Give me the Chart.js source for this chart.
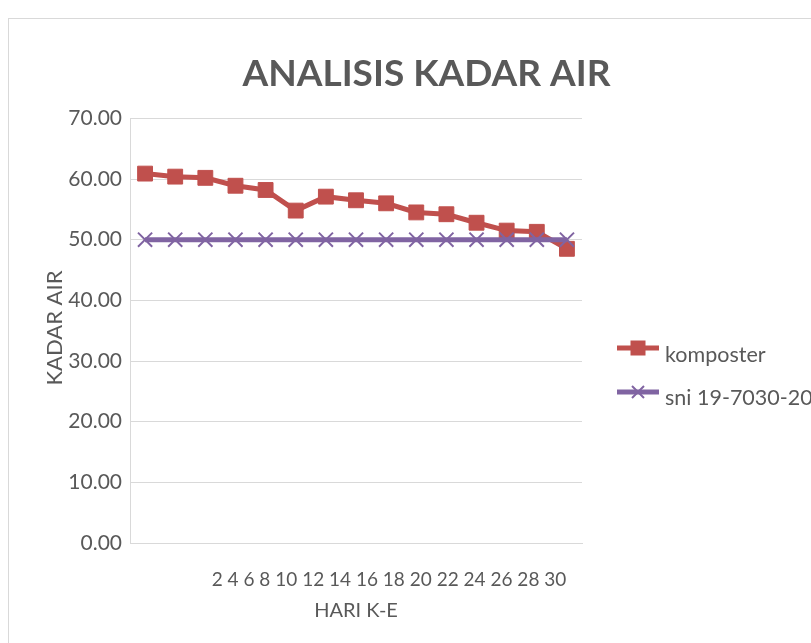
<!DOCTYPE html>
<html>
<head>
<meta charset="utf-8">
<script src="https://cdn.jsdelivr.net/npm/chart.js@4.4.1/dist/chart.umd.min.js"></script>
<style>
html,body{margin:0;padding:0;background:#fff;}
#wrap{width:811px;height:643px;position:relative;}
</style>
</head>
<body>
<div id="wrap"><canvas id="c" width="811" height="643"></canvas></div>
<script>
const hariLabels = ["2","4","6","8","10","12","14","16","18","20","22","24","26","28","30"];
const komposter = [60.9, 60.4, 60.2, 58.9, 58.2, 54.8, 57.1, 56.5, 56.0, 54.5, 54.2, 52.8, 51.5, 51.3, 48.5];
const sni = [50, 50, 50, 50, 50, 50, 50, 50, 50, 50, 50, 50, 50, 50, 50];
const yTicks = [0, 10, 20, 30, 40, 50, 60, 70];
const seriesNames = ["komposter", "sni 19-7030-2004"];
const yTitle = "KADAR AIR";

const FONT = "Lato, 'Liberation Sans', sans-serif";
const TXT = "#595959";
const RED = "#C0504D";
const PURPLE = "#8064A2";

const frame = {
  id: 'frame',
  beforeDraw(chart) {
    const ctx = chart.ctx;
    ctx.save();
    ctx.fillStyle = '#fff';
    ctx.fillRect(0, 0, chart.width, chart.height);
    ctx.strokeStyle = '#d9d9d9';
    ctx.lineWidth = 1;
    ctx.strokeRect(8.5, 18.5, 900, 800);
    ctx.restore();
  }
};

const extras = {
  id: 'extras',
  afterDraw(chart) {
    const ctx = chart.ctx;
    ctx.save();
    // y axis title
    ctx.save();
    ctx.translate(55, 328);
    ctx.rotate(-Math.PI / 2);
    ctx.font = "22px " + FONT;
    ctx.fillStyle = TXT;
    ctx.textAlign = 'center';
    ctx.textBaseline = 'middle';
    ctx.fillText(yTitle, 0, 0);
    ctx.restore();
    // x category labels (packed together, as in the reference)
    ctx.font = "19px " + FONT;
    ctx.fillStyle = TXT;
    ctx.textAlign = 'center';
    ctx.textBaseline = 'middle';
    ctx.fillText(hariLabels.join(' '), 389, 580);
    // legend
    const items = [
      {name: seriesNames[0], color: RED, style: 'rect', y: 348, base: 362},
      {name: seriesNames[1], color: PURPLE, style: 'cross', y: 392, base: 405}
    ];
    items.forEach(it => {
      ctx.strokeStyle = it.color;
      ctx.lineWidth = 5;
      ctx.beginPath();
      ctx.moveTo(617, it.y);
      ctx.lineTo(659, it.y);
      ctx.stroke();
      if (it.style === 'rect') {
        ctx.fillStyle = it.color;
        ctx.fillRect(638 - 7.5, it.y - 7.5, 15, 15);
      } else {
        ctx.lineWidth = 2;
        ctx.beginPath();
        ctx.moveTo(638 - 6, it.y - 6); ctx.lineTo(638 + 6, it.y + 6);
        ctx.moveTo(638 - 6, it.y + 6); ctx.lineTo(638 + 6, it.y - 6);
        ctx.stroke();
      }
      ctx.fillStyle = TXT;
      ctx.textAlign = 'left';
      ctx.textBaseline = 'alphabetic';
      ctx.font = "21.5px " + FONT;
      ctx.fillText(it.name, 665, it.base);
    });
    ctx.restore();
  }
};

new Chart(document.getElementById('c'), {
  type: 'line',
  data: {
    labels: hariLabels,
    datasets: [
      {
        label: seriesNames[0],
        data: komposter,
        borderColor: RED,
        backgroundColor: RED,
        borderWidth: 5,
        pointStyle: 'rect',
        pointRadius: 10.5,
        pointBorderWidth: 1,
        pointBorderColor: RED,
        pointBackgroundColor: RED,
        tension: 0,
        order: 2
      },
      {
        label: seriesNames[1],
        data: sni,
        borderColor: PURPLE,
        backgroundColor: PURPLE,
        borderWidth: 5,
        pointStyle: 'crossRot',
        pointRadius: 10,
        pointBorderWidth: 2,
        pointBorderColor: PURPLE,
        tension: 0,
        order: 1
      }
    ]
  },
  options: {
    responsive: false,
    animation: false,
    devicePixelRatio: 1,
    layout: { padding: { left: 42, right: 0, top: 0, bottom: 20 } },
    plugins: {
      legend: { display: false },
      tooltip: { enabled: false },
      title: {
        display: true,
        text: 'ANALISIS KADAR AIR',
        color: TXT,
        font: { family: FONT, size: 37, weight: 'bold' },
        padding: { top: 52, bottom: 22 }
      }
    },
    scales: {
      x: {
        offset: true,
        grid: { display: false, drawTicks: false },
        border: { display: true, color: '#d9d9d9', width: 1 },
        ticks: { display: false },
        title: {
          display: true,
          text: 'HARI K-E',
          color: TXT,
          font: { family: FONT, size: 20 },
          padding: { top: 56, bottom: 0 }
        }
      },
      y: {
        min: 0,
        max: 70,
        afterBuildTicks(scale) { scale.ticks = yTicks.map(v => ({ value: v })); },
        afterFit(scale) { scale.width = 88; },
        grid: { color: '#d9d9d9', lineWidth: 1, drawTicks: false },
        border: { display: true, color: '#d9d9d9', width: 1 },
        ticks: {
          color: TXT,
          padding: 8,
          font: { family: FONT, size: 21 },
          callback: v => Number(v).toFixed(2)
        },
        title: { display: false }
      },
      legendSpace: {
        type: 'linear',
        position: 'right',
        display: true,
        grid: { display: false, drawTicks: false },
        border: { display: false },
        ticks: { display: false },
        afterFit(scale) { scale.width = 229; }
      }
    }
  },
  plugins: [frame, extras]
});
</script>
</body>
</html>
